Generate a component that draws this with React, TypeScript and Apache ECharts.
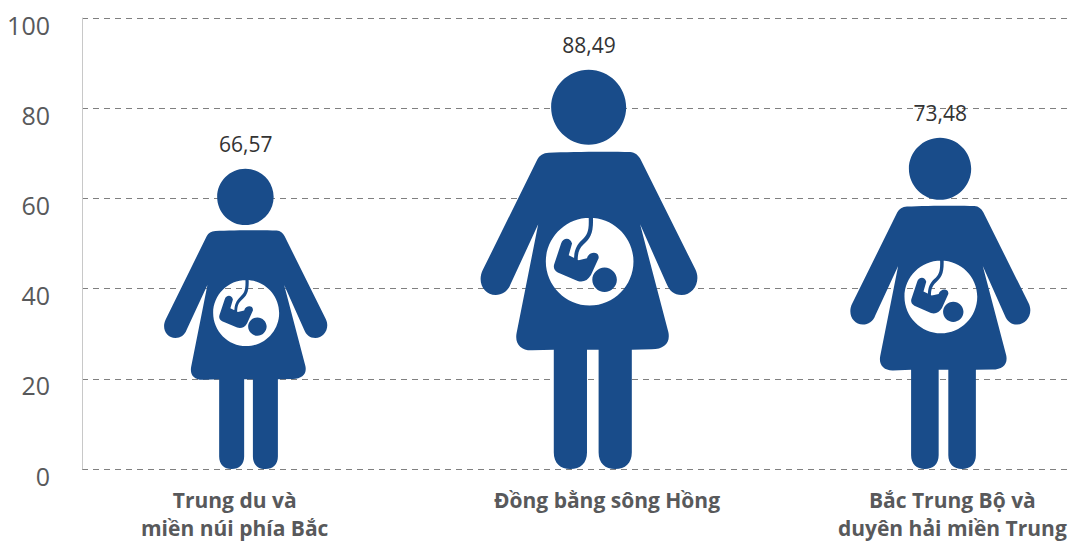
import React, { useEffect, useRef } from "react";
import * as echarts from "echarts";

const categories = ["Trung du và\nmiền núi phía Bắc", "Đồng bằng sông Hồng", "Bắc Trung Bộ và\nduyên hải miền Trung"];
const values = [66.57, 88.49, 73.48];
const yTicks = { min: 0, max: 100, interval: 20 };

// Horizontal nudges (px) from band centres, as the source places figures and labels off-centre
const figureOffsets = [-1, 13, 35];
const labelShifts = [-12, 31, 47];

const BLUE = "#194c8a";
const GREY = "#58595b";
const FONT = "'Open Sans', sans-serif";

// Figure width as a share of the category band, per unit of value (keeps the pictogram's aspect)
const WIDTH_PERCENT_PER_UNIT = 0.7437;

// Pregnant woman pictogram. Outer shapes clockwise, belly hole counter-clockwise (nonzero fill)
const figurePath =
  "path://" +
  // head
  "M355,24 C417,24 468,75 468,137 C468,199 417,250 355,250 C293,250 242,199 242,137 C242,75 293,24 355,24 Z " +
  // body, arms, legs
  "M235,274 C300,271 420,270 480,272 C495,273 505,282 512,295 L676,625 C695,662 670,703 635,703 " +
  "C612,703 598,690 590,670 L510,490 L595,815 C602,848 582,866 545,867 L485,868 L485,1178 " +
  "C485,1210 465,1228 435,1228 C405,1228 385,1210 385,1178 L385,868 L350,868 L350,1178 " +
  "C350,1210 330,1228 300,1228 C270,1228 250,1210 250,1178 L250,868 L185,870 " +
  "C150,871 132,850 138,818 L203,490 L120,670 C112,692 95,703 75,703 C40,703 18,665 36,628 " +
  "L200,295 C207,282 218,275 235,274 Z " +
  // belly hole (counter-clockwise)
  "M358,470 C286,470 226,530 226,602 C226,675 286,735 358,735 C431,735 490,675 490,602 C490,530 431,470 358,470 Z " +
  // cord
  "M355,465 L368,465 C370,520 360,532 340,550 C326,563 322,576 322,600 L311,596 C311,570 318,553 334,538 " +
  "C352,522 357,510 355,465 Z " +
  // foetus
  "M272,548 C277,530 300,527 305,548 L295,583 L325,598 L350,592 C356,570 388,570 385,592 L362,643 " +
  "C352,660 338,666 322,661 L262,635 C250,628 248,618 252,608 Z " +
  // foetal head
  "M403,620 C423,620 440,637 440,657 C440,677 423,694 403,694 C383,694 366,677 366,657 C366,637 383,620 403,620 Z";

export default function App() {
  const ref = useRef<HTMLDivElement>(null);
  useEffect(() => {
    document.body.style.margin = "0";
    const chart = echarts.init(ref.current!, null, { renderer: "svg" });
    chart.setOption({
      animation: false,
      backgroundColor: "#ffffff",
      grid: { left: 82, right: 0, top: 18, bottom: 73, outerBoundsMode: "none" },
      xAxis: {
        type: "category",
        data: categories.map((c, i) => {
          const s = labelShifts[i];
          return {
            value: c,
            textStyle: { padding: s >= 0 ? [0, 0, 0, 2 * s] : [0, -2 * s, 0, 0] },
          };
        }),
        axisLine: { show: false },
        axisTick: { show: false },
        axisLabel: {
          interval: 0,
          margin: 17,
          fontFamily: FONT,
          fontWeight: "bold",
          fontSize: 21,
          lineHeight: 28,
          color: GREY,
        },
      },
      yAxis: {
        type: "value",
        min: yTicks.min,
        max: yTicks.max,
        interval: yTicks.interval,
        axisLine: { show: true, lineStyle: { color: "#c8c8c8", width: 1 } },
        axisTick: { show: false },
        axisLabel: {
          margin: 32,
          fontFamily: FONT,
          fontSize: 25,
          color: GREY,
          verticalAlign: "top",
          lineHeight: 13,
        },
        splitLine: { show: true, lineStyle: { color: "#808080", width: 1, type: [6, 5] } },
      },
      series: [
        {
          type: "pictorialBar",
          barCategoryGap: 0,
          symbol: figurePath,
          symbolPosition: "start",
          itemStyle: { color: BLUE },
          data: values.map((v, i) => ({
            value: v,
            symbolSize: [`${v * WIDTH_PERCENT_PER_UNIT}%`, "100%"],
            symbolOffset: [figureOffsets[i], 0],
            label: { offset: [figureOffsets[i], 0] },
          })),
          label: {
            show: true,
            position: "top",
            distance: 14,
            fontFamily: FONT,
            fontSize: 21,
            color: "#333333",
            formatter: (p: any) => String(p.value).replace(".", ","),
          },
        },
      ],
    });
    return () => chart.dispose();
  }, []);
  return <div ref={ref} style={{ position: "absolute", left: 0, top: 0, width: 1070, height: 542 }} />;
}
